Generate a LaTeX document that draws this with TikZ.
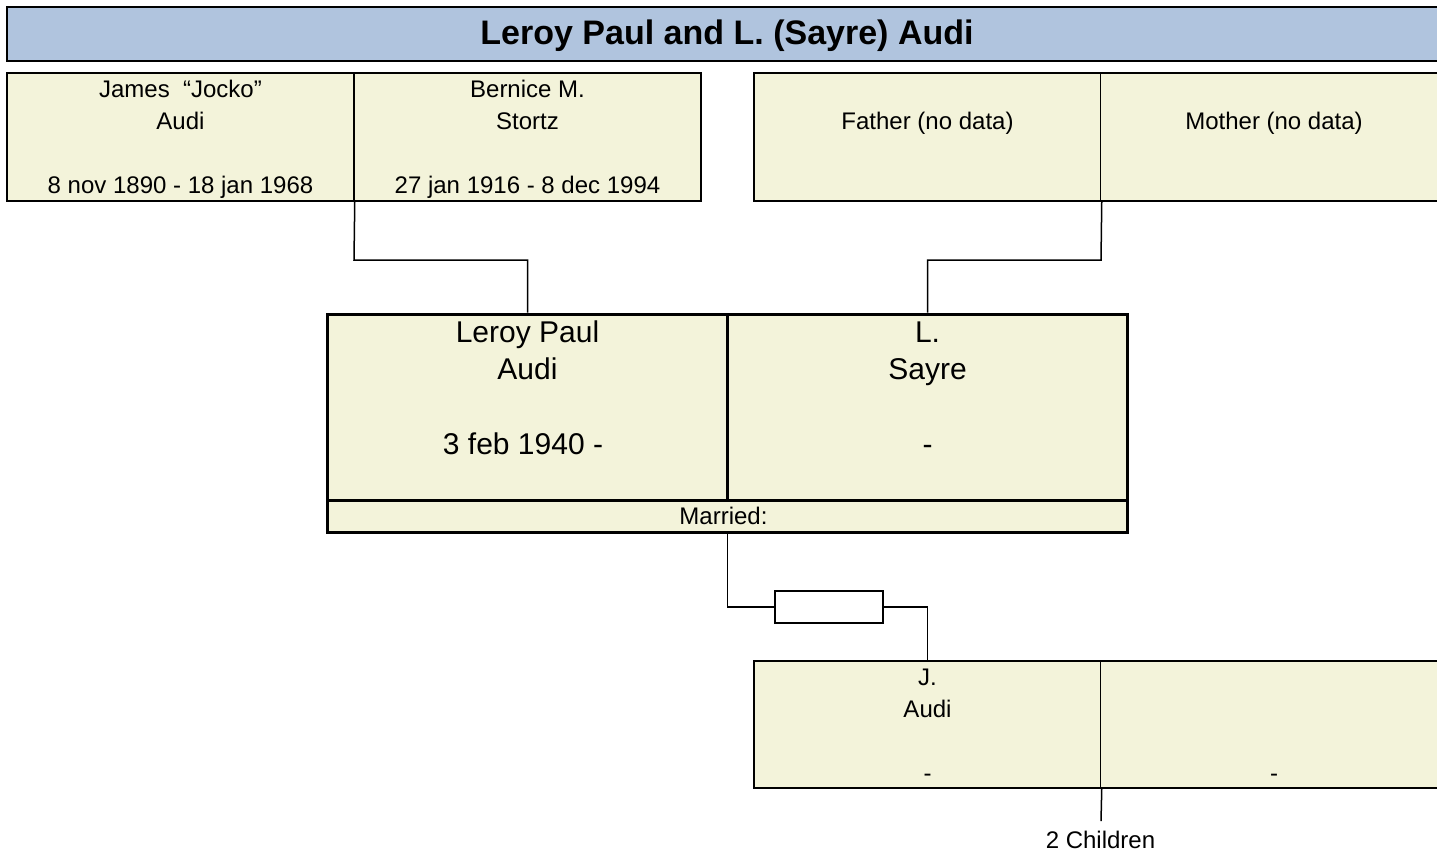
\documentclass[tikz,border=0pt]{standalone}
\usepackage{fontspec}
\setmainfont{Liberation Sans}
\definecolor{headfill}{RGB}{176,196,222}
\definecolor{boxfill}{RGB}{243,243,218}
\begin{document}
\begin{tikzpicture}[x=1pt,y=-1pt,
  header/.style={draw, line width=2.6pt, fill=headfill, inner sep=0pt, minimum width=1440pt, minimum height=54pt},
  pbox/.style={draw, line width=1.5pt, fill=boxfill, inner sep=0pt, minimum width=347pt, minimum height=128pt},
  mainbox/.style={draw, line width=3pt, fill=boxfill, inner sep=0pt, minimum width=400pt, minimum height=186pt},
  marbox/.style={draw, line width=3pt, fill=boxfill, inner sep=0pt, minimum width=800pt, minimum height=32pt},
  smallbox/.style={draw, line width=1.8pt, fill=white, inner sep=0pt, minimum width=108pt, minimum height=32pt},
  conn/.style={line width=1.5pt},
  txt/.style={anchor=base, inner sep=0pt, font=\fontsize{24}{28}\selectfont},
  bigtxt/.style={anchor=base, inner sep=0pt, font=\fontsize{30}{34}\selectfont},
  titletxt/.style={anchor=base, inner sep=0pt, font=\fontsize{34}{38}\selectfont\bfseries}
]
\useasboundingbox (0,0) rectangle (1437,854);
\clip (0,0) rectangle (1437,854);

% header
\node[header] (hd) at (727,34) {};
\node[titletxt] (title) at (727,44) {Leroy Paul and L. (Sayre) Audi};

% grandparents
\node[pbox] (jf) at (180.5,137) {};
\node[pbox] (bm) at (527.5,137) {};
\node[pbox] (fa) at (927.5,137) {};
\node[pbox] (mo) at (1274,137) {};

\node[txt] (jf1) at (180.5,97) {James\ \ “Jocko”};
\node[txt] (jf2) at (180.5,129) {Audi};
\node[txt] (jf3) at (180.5,193) {8 nov 1890 - 18 jan 1968};
\node[txt] (bm1) at (527.5,97) {Bernice M.};
\node[txt] (bm2) at (527.5,129) {Stortz};
\node[txt] (bm3) at (527.5,193) {27 jan 1916 - 8 dec 1994};
\node[txt] (fa1) at (927.5,129) {Father (no data)};
\node[txt] (mo1) at (1274,129) {Mother (no data)};

% couple
\node[mainbox] (lp) at (527.5,407) {};
\node[mainbox] (ls) at (927.5,407) {};
\node[marbox] (mar) at (727.5,516) {};
\node[bigtxt] (lp1) at (527.5,342) {Leroy Paul};
\node[bigtxt] (lp2) at (527.5,379) {Audi};
\node[bigtxt] (lp3) at (523,454) {3 feb 1940 -};
\node[bigtxt] (ls1) at (927.5,342) {L.};
\node[bigtxt] (ls2) at (927.5,379) {Sayre};
\node[bigtxt] (ls3) at (927.5,454) {-};
\node[txt] (mar1) at (723.5,524) {Married:};

% connectors to parents
\coordinate (j1) at (354,260);
\coordinate (j2) at (1101,260);
\draw[conn] (jf.south east) -- (j1) -| (lp.north);
\draw[conn] (fa.south east) -- (j2) -| (ls.north);

% child
\node[smallbox] (sb) at (829,607) {};
\node[pbox, minimum height=127pt] (ch) at (927.5,724.5) {};
\node[pbox, minimum height=127pt] (sp) at (1274,724.5) {};
\node[txt] (ch1) at (927.5,685) {J.};
\node[txt] (ch2) at (927.5,717) {Audi};
\node[txt] (ch3) at (927.5,781) {-};
\node[txt] (sp3) at (1274,781) {-};

\draw[conn] (mar.south) |- (sb.west);
\draw[conn] (sb.east) -| (ch.north);

\coordinate (c3) at (1101,821);
\draw[conn] (ch.south east) -- (c3);
\node[txt] (cc) at (1100.5,848) {2 Children};
\end{tikzpicture}
\end{document}
